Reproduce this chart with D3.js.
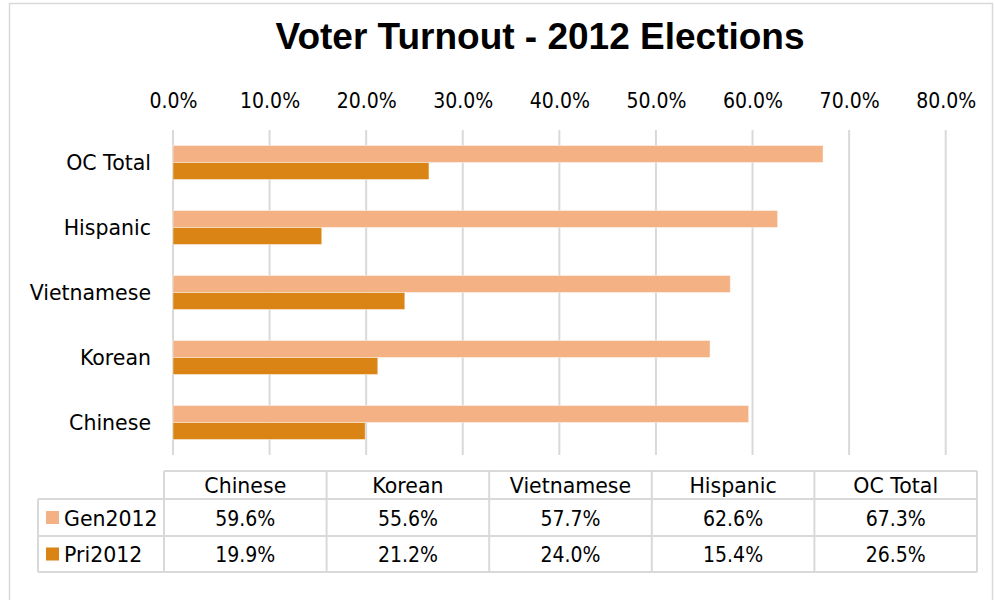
<!DOCTYPE html>
<html>
<head>
<meta charset="utf-8">
<script src="https://cdn.jsdelivr.net/npm/d3@7"></script>
<style>
  html, body { margin: 0; padding: 0; background: #fff; }
  svg { display: block; }
</style>
</head>
<body>
<script>
// Turnout by group, 2012 general and primary elections (percent)
const categories = ["Chinese", "Korean", "Vietnamese", "Hispanic", "OC Total"];
const seriesNames = ["Gen2012", "Pri2012"];
const gen2012 = [59.6, 55.6, 57.7, 62.6, 67.3];
const pri2012 = [19.9, 21.2, 24.0, 15.4, 26.5];
const tickValues = [0, 10, 20, 30, 40, 50, 60, 70, 80];
const title = "Voter Turnout - 2012 Elections";

const W = 995, H = 600;
const colors = { Gen2012: "#F4B183", Pri2012: "#D98414" };
const wordFont = "'DejaVu Sans', sans-serif";
const numFont = "'DejaVu Sans Condensed', 'DejaVu Sans', sans-serif";
const wordSize = 20.5, numSize = 21;
const grid = "#d9d9d9";

const svg = d3.select("body").append("svg").attr("width", W).attr("height", H);

// chart area frame
svg.append("rect")
  .attr("x", 9.5).attr("y", 3.5).attr("width", 983).attr("height", 610)
  .attr("fill", "#fff").attr("stroke", grid).attr("stroke-width", 1.5);

svg.append("text")
  .attr("x", 540).attr("y", 49)
  .attr("text-anchor", "middle")
  .attr("font-family", "'Liberation Sans', Arial, sans-serif")
  .attr("font-weight", "bold")
  .attr("font-size", 37)
  .attr("fill", "#000")
  .text(title);

const x = d3.scaleLinear().domain([0, 80]).range([173, 945.7]);
// bars listed top to bottom: last category at the top
const y = d3.scaleBand().domain(categories.slice().reverse()).range([130, 455]);
const inner = d3.scaleBand().domain(seriesNames)
  .range([(y.bandwidth() - 34) / 2, (y.bandwidth() + 34) / 2]);

// gridlines
svg.append("g").selectAll("line").data(tickValues).join("line")
  .attr("x1", d => x(d)).attr("x2", d => x(d))
  .attr("y1", 130).attr("y2", 455)
  .attr("stroke", grid).attr("stroke-width", 2);

// top axis tick labels
const pct = d => d3.format(".1f")(d) + "%";
const axis = d3.axisTop(x).tickValues(tickValues)
  .tickFormat(pct).tickSize(0).tickPadding(0);
const gAxis = svg.append("g").attr("transform", "translate(0,108)").call(axis);
gAxis.select(".domain").remove();
gAxis.selectAll("text")
  .attr("font-family", numFont).attr("font-size", numSize).attr("fill", "#000")
  .attr("dy", 0);

// category labels
const yAxis = d3.axisLeft(y).tickSize(0).tickPadding(0);
const gY = svg.append("g").attr("transform", "translate(151,0)").call(yAxis);
gY.select(".domain").remove();
gY.selectAll("text")
  .attr("font-family", wordFont).attr("font-size", wordSize).attr("fill", "#000")
  .attr("dy", "0.35em");

// bars
const rows = categories.map((c, i) => ({ cat: c, Gen2012: gen2012[i], Pri2012: pri2012[i] }));
const groups = svg.append("g").selectAll("g").data(rows).join("g")
  .attr("transform", d => `translate(0,${y(d.cat)})`);
groups.selectAll("rect")
  .data(d => seriesNames.map(s => ({ s, v: d[s] })))
  .join("rect")
  .attr("x", x(0))
  .attr("y", d => inner(d.s))
  .attr("width", d => x(d.v) - x(0))
  .attr("height", inner.bandwidth())
  .attr("fill", d => colors[d.s])
  .attr("stroke", "#fff").attr("stroke-opacity", 0.45).attr("stroke-width", 1);

// data table
const tLeft = 164, tRight = 977, legLeft = 38;
const rowY = [471, 499, 536, 572];
const col = d3.scaleBand().domain(categories).range([tLeft, tRight]);
const tg = svg.append("g");
const lineStyle = sel => sel.attr("stroke", grid).attr("stroke-width", 2);

// horizontal rules
tg.append("line").attr("x1", tLeft).attr("x2", tRight).attr("y1", rowY[0]).attr("y2", rowY[0]).call(lineStyle);
[rowY[1], rowY[2], rowY[3]].forEach(yy =>
  tg.append("line").attr("x1", legLeft).attr("x2", tRight).attr("y1", yy).attr("y2", yy).call(lineStyle));
// vertical rules
tg.append("line").attr("x1", legLeft).attr("x2", legLeft).attr("y1", rowY[1]).attr("y2", rowY[3]).call(lineStyle);
categories.forEach(c =>
  tg.append("line").attr("x1", col(c)).attr("x2", col(c)).attr("y1", rowY[0]).attr("y2", rowY[3]).call(lineStyle));
tg.append("line").attr("x1", tRight).attr("x2", tRight).attr("y1", rowY[0]).attr("y2", rowY[3]).call(lineStyle);

const cellText = (xx, yy, t, font, size, anchor) => tg.append("text")
  .attr("x", xx).attr("y", yy).attr("text-anchor", anchor || "middle")
  .attr("font-family", font).attr("font-size", size).attr("fill", "#000").text(t);

categories.forEach(c => cellText(col(c) + col.bandwidth() / 2, 493, c, wordFont, wordSize));
const seriesVals = { Gen2012: gen2012, Pri2012: pri2012 };
seriesNames.forEach((s, r) => {
  const top = rowY[r + 1], bot = rowY[r + 2];
  const base = (top + bot) / 2 + 8;
  tg.append("rect").attr("x", 46).attr("y", (top + bot) / 2 - 6.5)
    .attr("width", 13).attr("height", 13).attr("fill", colors[s]);
  cellText(64, base, s, wordFont, wordSize, "start");
  categories.forEach((c, i) =>
    cellText(col(c) + col.bandwidth() / 2, base, pct(seriesVals[s][i]), numFont, numSize));
});
</script>
</body>
</html>
